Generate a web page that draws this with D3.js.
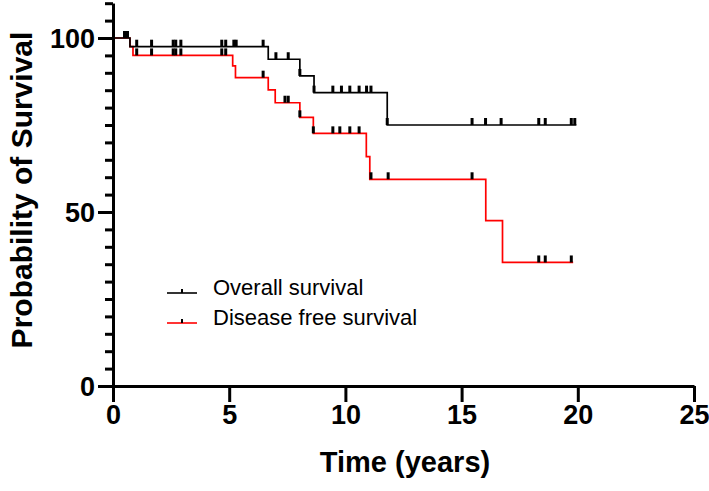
<!DOCTYPE html>
<html>
<head>
<meta charset="utf-8">
<script src="https://cdn.jsdelivr.net/npm/d3@7"></script>
<style>
  html, body { margin: 0; padding: 0; background: #fff; }
  svg { display: block; }
  text { font-family: "Liberation Sans", Arial, Helvetica, sans-serif; }
</style>
</head>
<body>
<svg id="chart" width="709" height="491"></svg>
<script>
// ---- data ----
const xTicks = [0, 5, 10, 15, 20, 25];
const yMajorTicks = [0, 50, 100];

// Overall survival (Kaplan–Meier steps)
const osTimes = [0, 0.73, 6.68, 8.04, 8.65, 11.8];
const osSurv  = [100, 97.5, 93.9, 89.1, 84.3, 75.0];
const osEnd = 19.94;
const osCensor = [0.5, 0.62, 1.02, 1.66, 2.59, 2.7, 2.92, 4.68, 4.85, 5.2, 5.3, 6.46,
                  7.01, 7.54, 8.04, 8.65, 9.46, 9.83, 10.19, 10.59, 10.91, 11.1, 11.8,
                  15.45, 16.03, 16.7, 18.32, 18.6, 19.72, 19.87];

// Disease free survival
const dfsTimes = [0, 0.73, 0.86, 5.15, 5.27, 6.68, 6.98, 8.04, 8.62, 10.9, 11.05, 16.04, 16.76];
const dfsSurv  = [100, 97.5, 95.0, 92.0, 88.6, 85.1, 81.4, 77.2, 72.6, 65.9, 59.4, 47.5, 35.5];
const dfsEnd = 19.8;
const dfsCensor = [0.5, 0.62, 1.02, 1.66, 2.59, 2.7, 2.92, 4.68, 4.85, 6.46, 7.4, 7.54,
                   8.04, 8.62, 9.46, 9.76, 10.19, 10.59, 11.1, 11.84, 15.45, 18.32, 18.6, 19.72];

const seriesNames = ["Overall survival", "Disease free survival"];
const seriesColors = ["#000000", "#ff0000"];

// ---- chart ----
const svg = d3.select("#chart");
const x = d3.scaleLinear().domain([0, 25]).range([113, 694]);
const y = d3.scaleLinear().domain([0, 110]).range([386, 3.2]);

function survAt(times, surv, t) {
  let s = surv[0];
  for (let i = 0; i < times.length; i++) if (t >= times[i] - 1e-9) s = surv[i];
  return s;
}

function drawCurve(times, surv, end, color) {
  const pts = times.map((t, i) => [t, surv[i]]);
  pts.push([end, surv[surv.length - 1]]);
  const line = d3.line().x(d => x(d[0])).y(d => y(d[1])).curve(d3.curveStepAfter);
  svg.append("path").attr("d", line(pts))
    .attr("fill", "none").attr("stroke", color).attr("stroke-width", 1.7);
}
function drawCensor(times, surv, cens) {
  svg.append("g").selectAll("line").data(cens).join("line")
    .attr("x1", d => x(d)).attr("x2", d => x(d))
    .attr("y1", d => y(survAt(times, surv, d)))
    .attr("y2", d => y(survAt(times, surv, d)) - 7)
    .attr("stroke", "#000").attr("stroke-width", 3);
}

drawCurve(dfsTimes, dfsSurv, dfsEnd, seriesColors[1]);
drawCurve(osTimes, osSurv, osEnd, seriesColors[0]);
drawCensor(dfsTimes, dfsSurv, dfsCensor);
drawCensor(osTimes, osSurv, osCensor);

// axes
const yMinor = svg.append("g").attr("transform", "translate(113,0)")
  .call(d3.axisLeft(y).tickValues(d3.range(0, 111, 5)).tickSize(8).tickSizeOuter(0).tickFormat(""));
const yMajor = svg.append("g").attr("transform", "translate(113,0)")
  .call(d3.axisLeft(y).tickValues(yMajorTicks).tickSize(15).tickSizeOuter(0).tickPadding(3));
const xAxis = svg.append("g").attr("transform", "translate(0,386)")
  .call(d3.axisBottom(x).tickValues(xTicks).tickSize(16).tickSizeOuter(0).tickPadding(3));

[yMinor, yMajor, xAxis].forEach(g => {
  g.selectAll("path.domain").attr("stroke", "#000").attr("stroke-width", 3);
  g.selectAll(".tick line").attr("stroke", "#000").attr("stroke-width", 3);
  g.selectAll(".tick text").attr("fill", "#000")
    .style("font-size", "27px").style("font-weight", "bold")
    .style("font-family", '"Liberation Sans", Arial, sans-serif');
});
yMajor.selectAll(".tick text").attr("dy", "0.36em");

// axis titles
svg.append("text")
  .attr("transform", "translate(32,190) rotate(-90)")
  .attr("text-anchor", "middle")
  .style("font-size", "30px").style("font-weight", "bold")
  .text("Probability of Survival");
svg.append("text")
  .attr("x", 405).attr("y", 472)
  .attr("text-anchor", "middle")
  .style("font-size", "29px").style("font-weight", "bold")
  .text("Time (years)");

// legend
const legend = svg.append("g");
seriesNames.forEach((name, i) => {
  const ly = 293 + i * 30;
  legend.append("line").attr("x1", 167).attr("x2", 197).attr("y1", ly).attr("y2", ly)
    .attr("stroke", seriesColors[i]).attr("stroke-width", 1.6);
  legend.append("line").attr("x1", 182).attr("x2", 182).attr("y1", ly).attr("y2", ly - 4)
    .attr("stroke", "#000").attr("stroke-width", 2);
  legend.append("text").attr("x", 213).attr("y", ly + 2)
    .style("font-size", "22px").text(name);
});
</script>
</body>
</html>
